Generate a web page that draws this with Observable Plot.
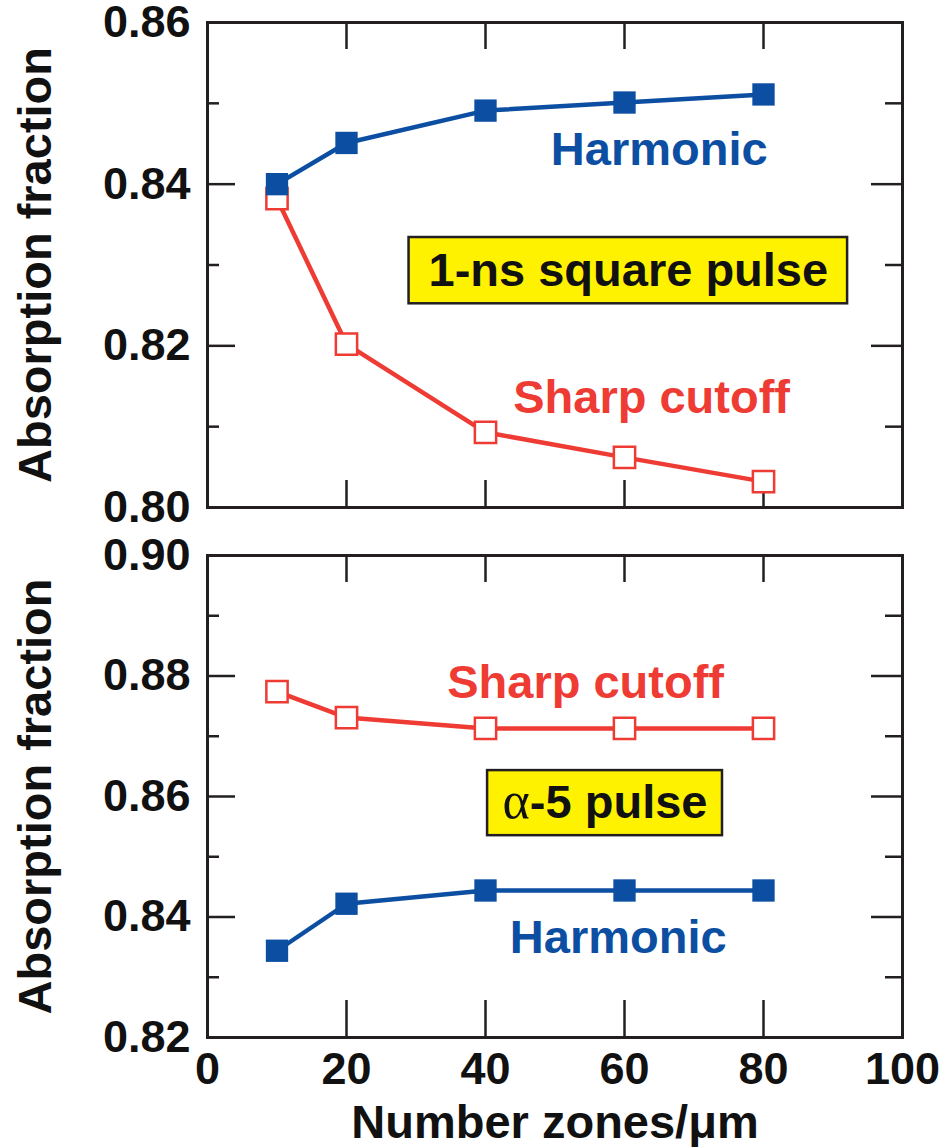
<!DOCTYPE html>
<html><head><meta charset="utf-8">
<script src="https://cdn.jsdelivr.net/npm/d3@7"></script>
<script src="https://cdn.jsdelivr.net/npm/@observablehq/plot@0.6"></script>
<style>
body{margin:0;background:#fff;}
#chart{position:relative;width:945px;height:1147px;}
#chart svg{display:block;}
</style></head><body><div id="chart"></div>
<script>
// ---- data ----
const zones = [10, 20, 40, 60, 80];
const topHarmonic = [0.8400, 0.8451, 0.8491, 0.8501, 0.8511];
const topSharp    = [0.8382, 0.8202, 0.8093, 0.8062, 0.8032];
const botSharp    = [0.8774, 0.8731, 0.8713, 0.8713, 0.8713];
const botHarmonic = [0.8344, 0.8422, 0.8444, 0.8444, 0.8444];
const xTicks = [0, 20, 40, 60, 80, 100];
const topYTicks = [0.80, 0.82, 0.84, 0.86];
const topYMinor = [0.81, 0.83, 0.85];
const botYTicks = [0.82, 0.84, 0.86, 0.88, 0.90];
const botYMinor = [0.83, 0.85, 0.87, 0.89];
const seriesNames = ["Harmonic", "Sharp cutoff"];
const xLabel = "Number zones/μm";
const yLabel = "Absorption fraction";
const topBoxLabel = "1-ns square pulse";
const botBoxLabel = "α-5 pulse";
// annotation placement (data units)
const topAnno = [
  {text: seriesNames[0], x: 65.0, y: 0.8442, s: 0},
  {text: seriesNames[1], x: 63.9, y: 0.8136, s: 1}
];
const botAnno = [
  {text: seriesNames[1], x: 54.4, y: 0.8789, s: 1},
  {text: seriesNames[0], x: 59.1, y: 0.8366, s: 0}
];
const topBox = {text: topBoxLabel, x1: 29.0, x2: 92.1, y1: 0.8252, y2: 0.8334};
const botBox = {text: botBoxLabel, x1: 40.3, x2: 74.1, y1: 0.8535, y2: 0.8643};

// ---- styles ----
const BLUE = "#0c4ea2", RED = "#ee3b33", YELLOW = "#fff200", INK = "#231f20";
const FONT = "'Liberation Sans', Arial, Helvetica, sans-serif";
const W = 945, ML = 207, MR = 43;
const PW = W - ML - MR;

function panel({height, mt, mb, yDomain, yTicks, yMinor, harmonic, sharp, anno, box, bottomAxis, xTickLenBottom}) {
  const PH = height - mt - mb;
  const innerX = xTicks.filter(d => d > 0 && d < 100);
  const innerY = yTicks.slice(1, -1);
  const H = zones.map((x, i) => ({x, y: harmonic[i]}));
  const S = zones.map((x, i) => ({x, y: sharp[i]}));
  const marks = [
    // ticks (inward)
    Plot.tickX(innerX, {x: d => d, stroke: INK, strokeWidth: 2.5, insetTop: PH - xTickLenBottom}),
    Plot.tickX(innerX, {x: d => d, stroke: INK, strokeWidth: 2.5, insetBottom: PH - 27}),
    Plot.tickY(innerY, {y: d => d, stroke: INK, strokeWidth: 2.5, insetRight: PW - 28}),
    Plot.tickY(yMinor, {y: d => d, stroke: INK, strokeWidth: 2.5, insetRight: PW - 12}),
    Plot.tickY(innerY, {y: d => d, stroke: INK, strokeWidth: 2.5, insetLeft: PW - 31}),
    Plot.tickY(yMinor, {y: d => d, stroke: INK, strokeWidth: 2.5, insetLeft: PW - 17}),
    Plot.frame({stroke: INK, strokeWidth: 3}),
    // box
    Plot.rect([box], {x1: "x1", x2: "x2", y1: "y1", y2: "y2", fill: YELLOW, stroke: INK, strokeWidth: 2.5}),
    Plot.text([box], {x: d => (d.x1 + d.x2) / 2, y: d => (d.y1 + d.y2) / 2, text: "text", fontSize: 47, fontWeight: "bold", fill: "#111"}),
    // series labels
    Plot.text(anno, {x: "x", y: "y", text: "text", fontSize: 47, fontWeight: "bold", fill: d => d.s === 0 ? BLUE : RED}),
    // sharp cutoff
    Plot.line(S, {x: "x", y: "y", stroke: RED, strokeWidth: 4.5}),
    Plot.dot(S, {x: "x", y: "y", symbol: "square", r: 12, fill: "white", stroke: RED, strokeWidth: 2.5}),
    // harmonic
    Plot.line(H, {x: "x", y: "y", stroke: BLUE, strokeWidth: 4.5}),
    Plot.dot(H, {x: "x", y: "y", symbol: "square", r: 12.6, fill: BLUE}),
    // y tick labels
    Plot.text(yTicks, {y: d => d, text: d => d3.format(".2f")(d), frameAnchor: "left", textAnchor: "end", lineAnchor: "middle", dx: -17, fontSize: 45, fontWeight: "bold", fill: "#111"}),
    // y label
    Plot.text([yLabel], {frameAnchor: "left", textAnchor: "middle", lineAnchor: "middle", rotate: -90, dx: -172, fontSize: 47, fontWeight: "bold", fill: "#111"})
  ];
  if (bottomAxis) {
    marks.push(
      Plot.text(xTicks, {x: d => d, text: d => String(d), frameAnchor: "bottom", lineAnchor: "middle", dy: 32, fontSize: 45, fontWeight: "bold", fill: "#111"}),
      Plot.text([xLabel], {frameAnchor: "bottom", lineAnchor: "middle", dy: 85, fontSize: 47, fontWeight: "bold", fill: "#111"})
    );
  }
  return Plot.plot({
    width: W, height,
    marginLeft: ML, marginRight: MR, marginTop: mt, marginBottom: mb,
    x: {domain: [0, 100], axis: null},
    y: {domain: yDomain, axis: null},
    style: {fontFamily: FONT, background: "white", overflow: "visible"},
    marks
  });
}

const chart = document.getElementById("chart");
chart.append(panel({height: 530, mt: 22, mb: 23, yDomain: [0.80, 0.86], yTicks: topYTicks, yMinor: topYMinor,
  harmonic: topHarmonic, sharp: topSharp, anno: topAnno, box: topBox, bottomAxis: false, xTickLenBottom: 27}));
chart.append(panel({height: 617, mt: 25, mb: 110, yDomain: [0.82, 0.90], yTicks: botYTicks, yMinor: botYMinor,
  harmonic: botHarmonic, sharp: botSharp, anno: botAnno, box: botBox, bottomAxis: true, xTickLenBottom: 37}));

// render alpha in a serif face, as in the original
chart.querySelectorAll("text").forEach(t => {
  if (t.textContent === botBoxLabel) {
    const rest = t.textContent.slice(1);
    t.textContent = "";
    const ns = "http://www.w3.org/2000/svg";
    const a = document.createElementNS(ns, "tspan");
    a.setAttribute("font-family", "'Liberation Serif', 'DejaVu Serif', serif");
    a.setAttribute("font-weight", "normal");
    a.setAttribute("font-size", "52");
    a.textContent = "α";
    const b = document.createElementNS(ns, "tspan");
    b.textContent = rest;
    t.append(a, b);
  }
});
</script></body></html>
